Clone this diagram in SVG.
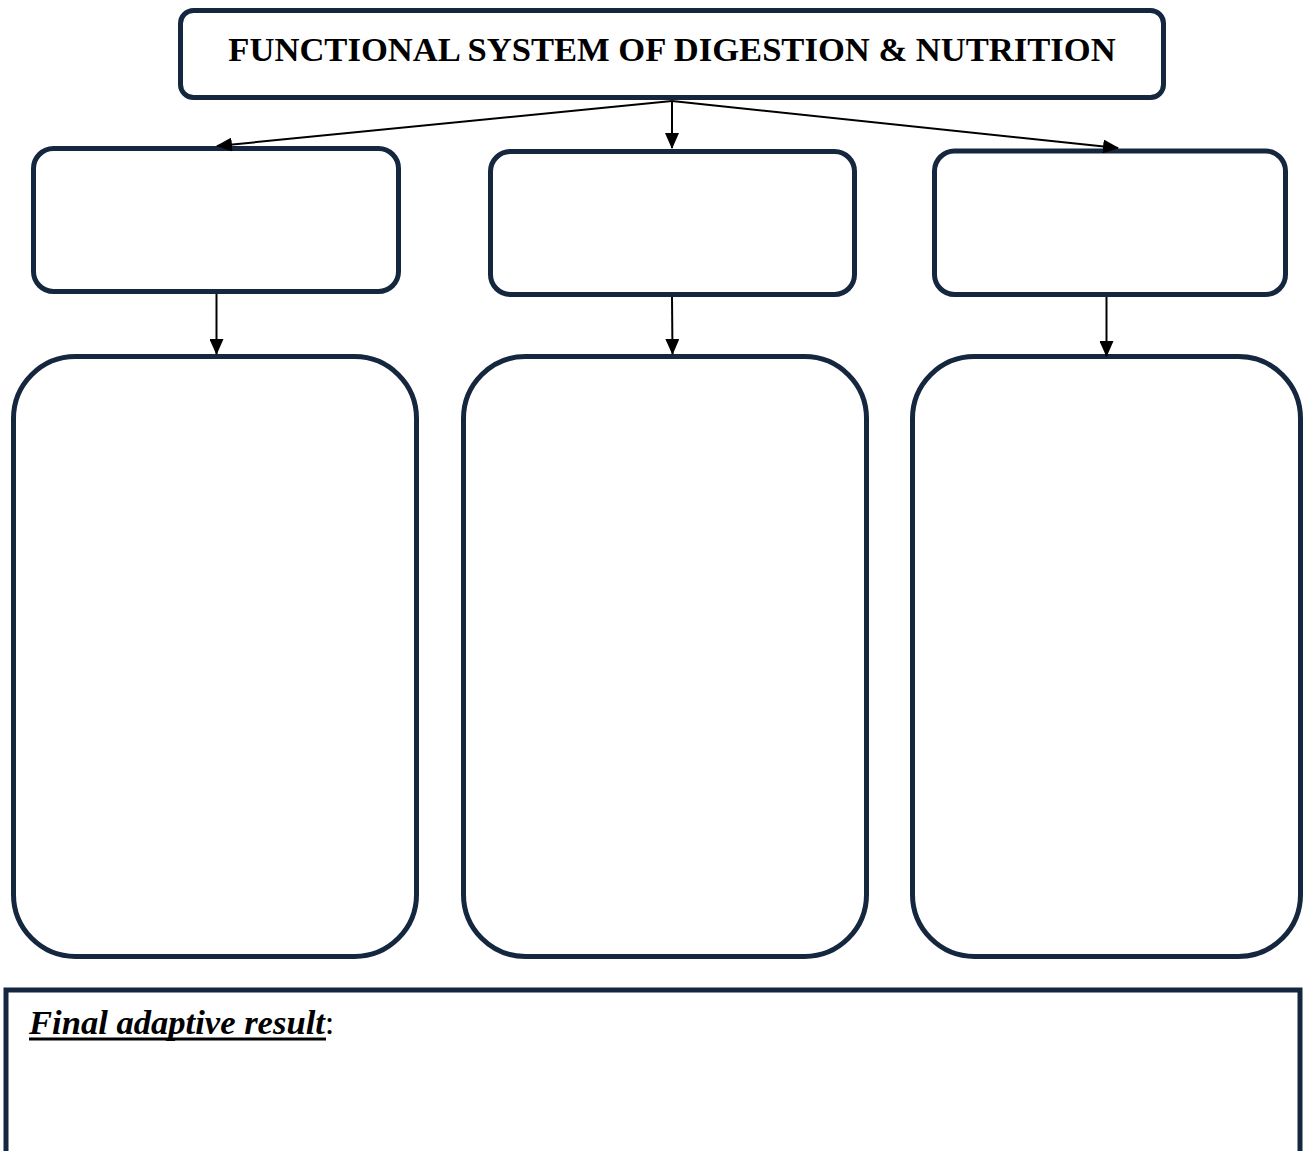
<svg xmlns="http://www.w3.org/2000/svg" width="1306" height="1151" viewBox="0 0 1306 1151">
  <style>
    .box { fill: #ffffff; stroke: #14273f; stroke-width: 5; }
    .link { stroke: #000000; stroke-width: 2; fill: none; }
    .title { font-family: "Liberation Serif", "Times New Roman", serif; font-weight: bold; font-size: 34.6px; fill: #000000; }
    .label { font-family: "Liberation Serif", "Times New Roman", serif; font-size: 34.6px; fill: #000000; }
  </style>
  <defs>
    <marker id="arrow" markerWidth="16" markerHeight="14" refX="15" refY="7" orient="auto" markerUnits="userSpaceOnUse">
      <path d="M0,0 L16,7 L0,14 Z" fill="#000000"/>
    </marker>
  </defs>

  <rect width="1306" height="1151" fill="#ffffff"/>

  <!-- top heading -->
  <g id="node-title">
    <rect class="box" x="180.5" y="10.5" width="983" height="87" rx="13"/>
    <text class="title" x="672" y="61" text-anchor="middle">FUNCTIONAL SYSTEM OF DIGESTION &amp; NUTRITION</text>
  </g>

  <!-- second row -->
  <g id="node-a1">
    <rect class="box" x="33.5" y="148.5" width="365" height="143" rx="20"/>
  </g>
  <g id="node-b1">
    <rect class="box" x="490.5" y="151.5" width="364" height="143" rx="20"/>
  </g>
  <g id="node-c1">
    <rect class="box" x="934.5" y="151" width="351" height="143.5" rx="20"/>
  </g>

  <!-- tall columns -->
  <g id="node-a2">
    <rect class="box" x="13.5" y="356.5" width="403" height="600" rx="62"/>
  </g>
  <g id="node-b2">
    <rect class="box" x="463.5" y="356.5" width="403" height="600" rx="62"/>
  </g>
  <g id="node-c2">
    <rect class="box" x="912.5" y="356.5" width="388" height="600" rx="62"/>
  </g>

  <!-- result panel -->
  <g id="node-result">
    <rect class="box" x="6" y="990" width="1294" height="200" rx="0"/>
    <text class="label" x="29" y="1034"><tspan font-weight="bold" font-style="italic">Final adaptive result</tspan>:</text>
    <line x1="29" y1="1039" x2="326" y2="1039" stroke="#000000" stroke-width="3"/>
  </g>

  <!-- connectors -->
  <g id="connectors">
    <line class="link" x1="672" y1="101" x2="217" y2="146" marker-end="url(#arrow)"/>
    <line class="link" x1="672" y1="101" x2="672" y2="148" marker-end="url(#arrow)"/>
    <line class="link" x1="672" y1="101" x2="1118" y2="148" marker-end="url(#arrow)"/>
    <line class="link" x1="216.5" y1="294" x2="216.5" y2="354" marker-end="url(#arrow)"/>
    <line class="link" x1="672" y1="297" x2="672.5" y2="354" marker-end="url(#arrow)"/>
    <line class="link" x1="1106.5" y1="297" x2="1106.5" y2="356" marker-end="url(#arrow)"/>
  </g>
</svg>
